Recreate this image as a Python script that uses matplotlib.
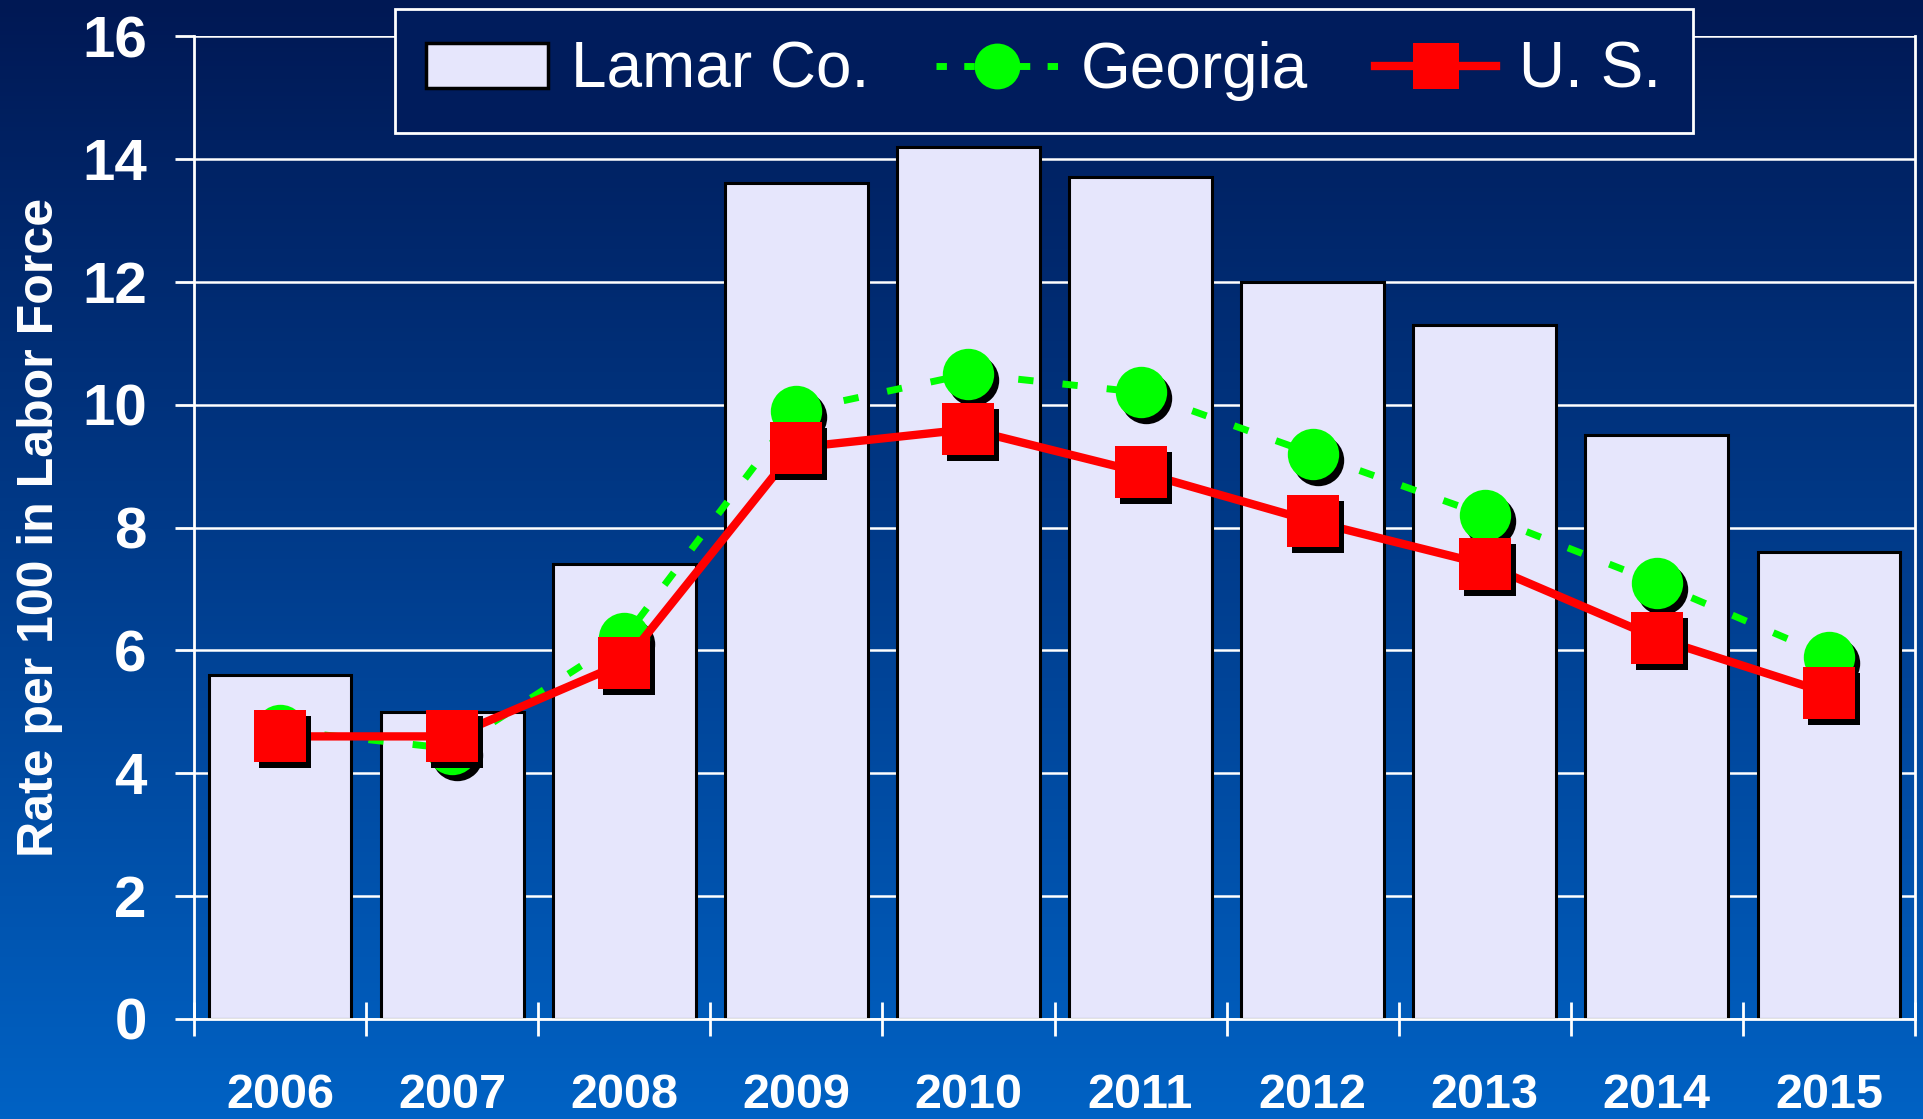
import matplotlib
matplotlib.use("Agg")
import matplotlib.pyplot as plt
import matplotlib.transforms as mtransforms
from matplotlib.colors import LinearSegmentedColormap
from matplotlib.patches import Patch
from matplotlib.lines import Line2D
import numpy as np

# data
years = ["2006", "2007", "2008", "2009", "2010", "2011", "2012", "2013", "2014", "2015"]
lamar = [5.6, 5.0, 7.4, 13.6, 14.2, 13.7, 12.0, 11.3, 9.5, 7.6]
georgia = [4.7, 4.4, 6.2, 9.9, 10.5, 10.2, 9.2, 8.2, 7.1, 5.9]
us = [4.6, 4.6, 5.8, 9.3, 9.6, 8.9, 8.1, 7.4, 6.2, 5.3]

plt.rcParams['font.family'] = ['Liberation Sans', 'DejaVu Sans']

fig = plt.figure(figsize=(19.23, 11.19), dpi=100)

# 背景グラデーション
bg = fig.add_axes([0, 0, 1, 1], zorder=-10)
cmap = LinearSegmentedColormap.from_list("bg", ["#001854", "#003c8c", "#0062c4"])
bg.imshow(np.linspace(0, 1, 256).reshape(-1, 1), aspect='auto', cmap=cmap,
          extent=[0, 1, 0, 1], origin='upper')
bg.axis('off')

ax = fig.add_axes([194/1923, 1-1019/1119, (1915-194)/1923, (1019-36)/1119])
ax.set_facecolor('none')

x = np.arange(len(years))

ax.set_axisbelow(True)
ax.yaxis.grid(True, color='white', lw=1.8)
ax.bar(x, lamar, width=0.83, color='#e6e6fc', edgecolor='black', lw=2.2, zorder=2)

sh = mtransforms.offset_copy(ax.transData, fig=fig, x=5, y=-6, units='dots')

ax.plot(x, georgia, color='#00ff00', lw=5, ls=(0, (2.2, 4.2)), zorder=3)
ax.plot(x, georgia, 'o', color='black', ms=37, mew=0, transform=sh, zorder=4)
ax.plot(x, georgia, 'o', color='#00ff00', ms=37, mew=0, zorder=5)

ax.plot(x, us, color='#ff0000', lw=6, zorder=6)
ax.plot(x, us, 's', color='black', ms=38, mew=0, transform=sh, zorder=7)
ax.plot(x, us, 's', color='#ff0000', ms=38, mew=0, zorder=8)

ax.set_xlim(-0.5, len(years) - 0.5)
ax.set_ylim(0, 16)
ax.set_yticks(range(0, 17, 2))
ax.set_xticks(x)
ax.set_xticklabels(years)
ax.set_xticks(np.arange(-0.5, len(years)), minor=True)

for s in ['left', 'bottom', 'right']:
    ax.spines[s].set_color('white')
    ax.spines[s].set_linewidth(2)
ax.spines['top'].set_visible(False)

ax.tick_params(axis='y', colors='white', length=14, width=2, direction='out', pad=20,
               labelsize=42)
ax.tick_params(axis='x', which='major', length=0, pad=39, colors='white', labelsize=35)
ax.tick_params(axis='x', which='minor', length=25, width=2, direction='inout', colors='white')
for lab in ax.get_xticklabels() + ax.get_yticklabels():
    lab.set_fontweight('bold')

ax.set_ylabel("Rate per 100 in Labor Force", color='white', fontsize=36, fontweight='bold')
ax.yaxis.set_label_coords(-0.076, 0.5)

handles = [
    Patch(facecolor='#e6e6fc', edgecolor='black', lw=2.5),
    Line2D([], [], color='#00ff00', lw=5, ls=(0, (1.5, 2.5)), marker='o', ms=33, mew=0),
    Line2D([], [], color='#ff0000', lw=6, marker='s', ms=33, mew=0),
]
leg = fig.legend(handles, ["Lamar Co.", "Georgia", "U. S."], ncol=3,
                 loc='upper center', bbox_to_anchor=(1044/1923, 1-9/1119),
                 fontsize=46, labelcolor='white', facecolor='#001c5c', edgecolor='white',
                 fancybox=False, framealpha=1, handlelength=1.9, handletextpad=0.36,
                 columnspacing=1.05, borderpad=0.5, borderaxespad=0)
leg.get_frame().set_linewidth(2)

fig.savefig("out.png", dpi=100)
